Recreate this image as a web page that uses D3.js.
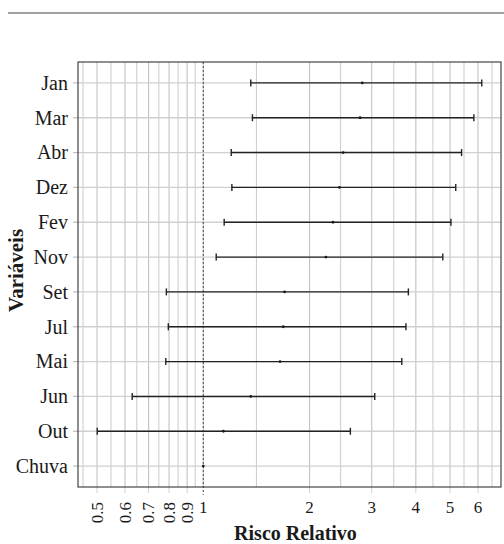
<!DOCTYPE html>
<html>
<head>
<meta charset="utf-8">
<script src="https://cdn.jsdelivr.net/npm/d3@7"></script>
<style>
  html, body { margin: 0; padding: 0; background: #fff; }
  svg { display: block; }
  text { font-family: "Liberation Serif", "DejaVu Serif", serif; fill: #1a1a1a; }
</style>
</head>
<body>
<svg id="chart" width="504" height="544"></svg>
<script>
// Relative risk estimates with 95% intervals, top row first
const variables = ["Jan", "Mar", "Abr", "Dez", "Fev", "Nov", "Set", "Jul", "Mai", "Jun", "Out", "Chuva"];
const estimates = [2.82, 2.78, 2.49, 2.43, 2.33, 2.225, 1.70, 1.685, 1.65, 1.363, 1.14, 1.0];
const lowerCI   = [1.363, 1.378, 1.20, 1.205, 1.146, 1.088, 0.786, 0.796, 0.783, 0.629, 0.5007, 1.0];
const upperCI   = [6.15, 5.84, 5.39, 5.19, 5.03, 4.77, 3.81, 3.75, 3.65, 3.06, 2.61, 1.0];

// x axis ticks (log scale)
const xTicks = [0.5, 0.6, 0.7, 0.8, 0.9, 1, 2, 3, 4, 5, 6];
const xTickLabels = ["0.5", "0.6", "0.7", "0.8", "0.9", "1", "2", "3", "4", "5", "6"];
const rotatedLabels = ["0.5", "0.6", "0.7", "0.8", "0.9"];

const svg = d3.select("#chart");
const panel = { left: 78, right: 501, top: 62, bottom: 487 };

// Log scale with 5% expansion around the data range
const lo = Math.log(d3.min(lowerCI)), hi = Math.log(d3.max(upperCI));
const pad = (hi - lo) * 0.05;
const x = d3.scaleLog()
  .domain([Math.exp(lo - pad), Math.exp(hi + pad)])
  .range([panel.left, panel.right]);

const y = d3.scalePoint()
  .domain(variables)
  .range([panel.top, panel.bottom])
  .padding(0.6);

// Rule across the top
svg.append("line")
  .attr("x1", 8).attr("x2", 504).attr("y1", 13).attr("y2", 13)
  .attr("stroke", "#808080").attr("stroke-width", 1.4);

// Minor breaks: geometric midpoints between major breaks, extended at both ends
const lt = xTicks.map(Math.log);
const ext = [lt[0] - (lt[1] - lt[0]), ...lt, lt[lt.length - 1] + (lt[lt.length - 1] - lt[lt.length - 2])];
const minor = [];
for (let i = 0; i < ext.length - 1; i++) minor.push(Math.exp((ext[i] + ext[i + 1]) / 2));
const minorIn = minor.filter(v => x(v) > panel.left && x(v) < panel.right);

const grid = svg.append("g");
grid.selectAll(".minor").data(minorIn).enter().append("line")
  .attr("x1", d => x(d)).attr("x2", d => x(d))
  .attr("y1", panel.top).attr("y2", panel.bottom)
  .attr("stroke", "#cbcbcb").attr("stroke-width", 1);
grid.selectAll(".major").data(xTicks).enter().append("line")
  .attr("x1", d => x(d)).attr("x2", d => x(d))
  .attr("y1", panel.top).attr("y2", panel.bottom)
  .attr("stroke", "#c2c2c2").attr("stroke-width", 1.1);
grid.selectAll(".hgrid").data(variables).enter().append("line")
  .attr("x1", panel.left).attr("x2", panel.right)
  .attr("y1", d => y(d)).attr("y2", d => y(d))
  .attr("stroke", "#d0d0d0").attr("stroke-width", 1.3);

// Reference line at RR = 1
svg.append("line")
  .attr("x1", x(1)).attr("x2", x(1))
  .attr("y1", panel.top).attr("y2", panel.bottom + 8)
  .attr("stroke", "#555").attr("stroke-width", 1.1)
  .attr("stroke-dasharray", "2,2");

// Axis ticks
svg.append("g").selectAll("line").data(variables).enter().append("line")
  .attr("x1", panel.left - 5).attr("x2", panel.left)
  .attr("y1", d => y(d)).attr("y2", d => y(d))
  .attr("stroke", "#bdbdbd").attr("stroke-width", 1.2);
svg.append("g").selectAll("line").data(xTicks.filter(d => d !== 1)).enter().append("line")
  .attr("x1", d => x(d)).attr("x2", d => x(d))
  .attr("y1", panel.bottom).attr("y2", panel.bottom + 6)
  .attr("stroke", "#d0d0d0").attr("stroke-width", 1);

// Confidence intervals
const rows = variables.map((v, i) => ({ v, est: estimates[i], lo: lowerCI[i], hi: upperCI[i] }));
const bars = svg.append("g").attr("stroke", "#222").attr("stroke-width", 1.4);
const withCI = rows.filter(r => r.hi > r.lo);
bars.selectAll(".ci").data(withCI).enter().append("line")
  .attr("x1", d => x(d.lo)).attr("x2", d => x(d.hi))
  .attr("y1", d => y(d.v)).attr("y2", d => y(d.v));
bars.selectAll(".capL").data(withCI).enter().append("line")
  .attr("x1", d => x(d.lo)).attr("x2", d => x(d.lo))
  .attr("y1", d => y(d.v) - 3.5).attr("y2", d => y(d.v) + 3.5);
bars.selectAll(".capR").data(withCI).enter().append("line")
  .attr("x1", d => x(d.hi)).attr("x2", d => x(d.hi))
  .attr("y1", d => y(d.v) - 3.5).attr("y2", d => y(d.v) + 3.5);

// Point estimates
svg.append("g").selectAll("circle").data(rows).enter().append("circle")
  .attr("cx", d => x(d.est)).attr("cy", d => y(d.v))
  .attr("r", 1.4).attr("fill", "#1a1a1a");

// Panel border
svg.append("rect")
  .attr("x", panel.left).attr("y", panel.top)
  .attr("width", panel.right - panel.left).attr("height", panel.bottom - panel.top)
  .attr("fill", "none").attr("stroke", "#333").attr("stroke-width", 1.1);

// Y tick labels
svg.append("g").selectAll("text").data(variables).enter().append("text")
  .attr("x", panel.left - 10).attr("y", d => y(d))
  .attr("dy", "0.34em")
  .attr("text-anchor", "end")
  .attr("font-size", 20)
  .text(d => d);

// X tick labels
const xl = svg.append("g");
xTicks.forEach((t, i) => {
  const lab = xTickLabels[i];
  if (rotatedLabels.includes(lab)) {
    xl.append("text")
      .attr("transform", `translate(${x(t)},${panel.bottom + 15}) rotate(-90)`)
      .attr("text-anchor", "end")
      .attr("dy", "0.34em")
      .attr("font-size", 17)
      .text(lab);
  } else {
    xl.append("text")
      .attr("x", x(t)).attr("y", panel.bottom + 26)
      .attr("text-anchor", "middle")
      .attr("font-size", 17)
      .text(lab);
  }
});

// Axis titles
svg.append("text")
  .attr("x", (panel.left + panel.right) / 2 + 6).attr("y", 540)
  .attr("text-anchor", "middle")
  .attr("font-size", 20).attr("font-weight", "bold")
  .text("Risco Relativo");
svg.append("text")
  .attr("transform", `translate(16,${(panel.top + panel.bottom) / 2 - 4}) rotate(-90)`)
  .attr("text-anchor", "middle")
  .attr("dy", "0.34em")
  .attr("font-size", 21).attr("font-weight", "bold")
  .text("Variáveis");
</script>
</body>
</html>
